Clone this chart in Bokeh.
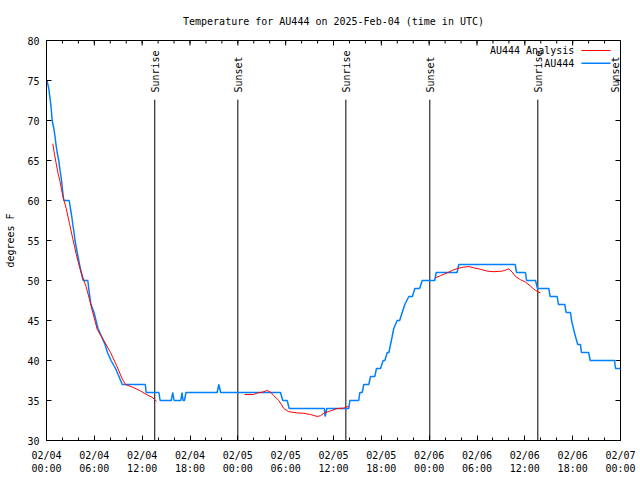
import numpy as np
from math import pi, nan
from bokeh.plotting import figure
from bokeh.models import Range1d, FixedTicker, Label
from bokeh.core.properties import value
from bokeh.embed import file_html
from bokeh.resources import INLINE

# ---- data (hours since 2025-02-04 00:00 UTC, degrees F) ----
obs_hours = [0.05, 0.29, 0.41, 0.54, 0.63, 0.71, 0.92, 1.07, 1.19, 1.34, 1.54, 1.66, 1.82, 1.94,
             2.04, 2.17, 2.85, 3.0, 3.17, 3.3, 3.45, 3.58, 3.76, 3.95, 4.14, 4.35, 4.6, 5.18,
             5.3, 5.43, 5.58, 5.96, 6.21, 6.46, 6.9, 7.34, 7.65, 8.09, 8.66, 9.09, 9.5, 12.4,
             12.5, 14.1, 14.25, 15.65, 15.84, 16.0, 16.85, 17.0, 17.12, 17.3, 17.5, 21.4,
             21.62, 21.85, 29.35, 29.64, 30.19, 30.44, 34.85, 34.95, 35.16, 37.92, 38.05,
             39.17, 39.3, 39.6, 39.8, 40.43, 40.64, 41.18, 41.39, 41.9, 42.23, 42.44, 42.74,
             42.95, 43.15, 43.36, 43.56, 43.99, 44.3, 44.62, 44.94, 45.45, 45.9, 46.2, 46.8,
             47.13, 48.7, 48.88, 51.5, 51.72, 58.79, 58.96, 60.08, 60.21, 61.34, 61.59, 63.0,
             63.18, 64.06, 64.22, 65.01, 65.19, 65.73, 65.86, 66.1, 66.35, 66.64, 66.98,
             67.1, 68.0, 68.2, 71.25, 71.38, 72.0]
obs_temp = [75, 74, 73, 72, 71, 70, 69, 68, 67, 66, 65, 64, 63, 62,
            61, 60, 60, 59, 58, 57, 56, 55, 54, 53, 52, 51, 50, 50,
            49, 48, 47, 46, 45, 44, 43, 42, 41, 40, 39, 38, 37, 37,
            36, 36, 35, 35, 36, 35, 35, 36, 35, 35, 36, 36,
            37, 36, 36, 35, 35, 34, 34, 33, 34, 34, 35,
            35, 36, 36, 37, 37, 38, 38, 39, 39, 40, 40, 41,
            41, 42, 43, 44, 45, 45, 46, 47, 48, 48, 49, 49,
            50, 50, 51, 51, 52, 52, 51, 51, 50, 50, 49, 49,
            48, 48, 47, 47, 46, 46, 45, 44, 43, 42, 42,
            41, 41, 40, 40, 39, 39]

ana_hours = [0.79, 1.0, 1.22, 1.42, 1.67, 2.04, 2.47, 2.89, 3.3, 3.73, 4.14, 4.56, 4.98, 5.4,
             5.75, 6.36, 7.19, 8.03, 8.87, 9.5, 9.91, 10.95, 11.79, 12.63, 13.26, 13.8, nan,
             24.84, 25.97, 26.47, 27.09, 27.68, 28.1, 28.51, 29.14, 29.77, 30.39, 31.45, 32.27,
             33.12, 33.96, 34.37, 34.78, 35.62, 36.47, 37.29, 37.92, nan,
             48.8, 49.42, 50.26, 50.89, 51.52, 52.35, 52.97, 53.6, 54.44, 55.28, 56.11, 57.16,
             57.58, 57.99, 58.42, 58.83, 59.46, 60.08, 60.71, 61.34, 61.96]
ana_temp = [67.1, 65.8, 64.6, 63.5, 62.5, 60.6, 59.0, 57.1, 55.2, 53.3, 51.7, 50.4, 49.2, 47.6,
            46.2, 43.9, 42.5, 41.0, 39.2, 37.7, 37.0, 36.6, 36.2, 35.7, 35.4, 34.9, nan,
            35.75, 35.75, 35.95, 36.05, 36.25, 36.05, 35.6, 35.0, 34.0, 33.6, 33.45, 33.4,
            33.25, 33.0, 33.1, 33.4, 33.7, 34.0, 34.05, 34.3, nan,
            50.34, 50.6, 50.96, 51.25, 51.5, 51.67, 51.75, 51.58, 51.4, 51.17, 51.1, 51.17,
            51.3, 51.45, 51.05, 50.5, 50.1, 49.8, 49.3, 48.75, 48.45]

sun_hours = [13.58, 24.0, 37.55, 48.08, 61.63, 72.0]
sun_labels = ["Sunrise", "Sunset", "Sunrise", "Sunset", "Sunrise", "Sunset"]

x_ticks = [0, 6, 12, 18, 24, 30, 36, 42, 48, 54, 60, 66, 72]
x_tick_labels = ["02/04\n00:00", "02/04\n06:00", "02/04\n12:00", "02/04\n18:00",
                 "02/05\n00:00", "02/05\n06:00", "02/05\n12:00", "02/05\n18:00",
                 "02/06\n00:00", "02/06\n06:00", "02/06\n12:00", "02/06\n18:00",
                 "02/07\n00:00"]
x_minor = [h for h in range(0, 73, 2)]
y_ticks = [30, 35, 40, 45, 50, 55, 60, 65, 70, 75, 80]

series_names = ["AU444 Analysis", "AU444"]
RED = "#ff0000"
BLUE = "#0080ff"
FONT = "DejaVu Sans Mono"
FS = "10px"

X0, X1, Y0, Y1 = 0, 72, 30, 80
FW, FH = 574, 400          # frame size in px
xpp = (X1 - X0) / FW       # hours per px
ypp = (Y1 - Y0) / FH       # degrees per px

p = figure(width=640, height=480, output_backend="svg", toolbar_location=None,
           x_range=Range1d(X0, X1), y_range=Range1d(Y0, Y1),
           min_border_left=46, min_border_right=20, min_border_top=40, min_border_bottom=40)
p.title.text = "Temperature for AU444 on 2025-Feb-04 (time in UTC)"
p.title.align = "center"
p.title.text_font = FONT
p.title.text_font_size = FS
p.title.text_font_style = "normal"
p.title.text_color = "black"
p.title.standoff = 27

p.xgrid.visible = False
p.ygrid.visible = False
p.outline_line_color = "black"
p.outline_line_width = 1
p.background_fill_color = "white"
p.border_fill_color = "white"

xt = FixedTicker(ticks=x_ticks, minor_ticks=x_minor)
yt = FixedTicker(ticks=y_ticks, minor_ticks=[])

def style(ax):
    ax.axis_line_color = "black"
    ax.major_tick_line_color = "black"
    ax.minor_tick_line_color = "black"
    ax.major_tick_in = 5
    ax.major_tick_out = 0
    ax.minor_tick_in = 3
    ax.minor_tick_out = 0
    ax.major_label_text_font = FONT
    ax.major_label_text_font_size = FS
    ax.major_label_text_color = "black"
    ax.major_label_standoff = 7

xa = p.xaxis[0]
xa.ticker = xt
xa.major_label_overrides = {t: l for t, l in zip(x_ticks, x_tick_labels)}
style(xa)
xa.major_label_standoff = 9
ya = p.yaxis[0]
ya.ticker = yt
style(ya)
ya.axis_label = "degrees F"
ya.axis_label_text_font = FONT
ya.axis_label_text_font_size = FS
ya.axis_label_text_font_style = "normal"
ya.axis_label_text_color = "black"
ya.axis_label_standoff = 8

# mirrored ticks on top and right edges (gnuplot style)
p.segment(x0=x_ticks, y0=Y1, x1=x_ticks, y1=Y1 - 5 * ypp, line_color="black", line_width=1)
p.segment(x0=x_minor, y0=Y1, x1=x_minor, y1=Y1 - 3 * ypp, line_color="black", line_width=1)
p.segment(x0=X1, y0=y_ticks, x1=X1 - 5 * xpp, y1=y_ticks, line_color="black", line_width=1)

# sunrise / sunset markers
p.segment(x0=sun_hours, y0=Y0, x1=sun_hours, y1=72.6, line_color="black", line_width=1)
for sx, st in zip(sun_hours, sun_labels):
    off = -5 if sx >= X1 - 0.5 else 1   # keep the edge label inside the frame
    p.add_layout(Label(x=sx, y=73.5, text=st, angle=pi / 2, text_align="left",
                       text_baseline="middle", text_font=FONT, text_font_size=FS,
                       text_color="black", x_offset=off))

# series
p.line(np.array(obs_hours), np.array(obs_temp), line_color=BLUE, line_width=1.5)
p.line(np.array(ana_hours), np.array(ana_temp), line_color=RED, line_width=1)

# legend (gnuplot style: label then sample)
p.text(x=66.2, y=[78.75, 77.15], text=series_names, text_align="right", text_baseline="middle",
       text_font=value(FONT), text_font_size=FS, text_color="black")
p.segment(x0=67.1, y0=[78.75, 77.15], x1=70.75, y1=[78.75, 77.15], line_color=[RED, BLUE],
          line_width=[1, 1.5])

open("out.html", "w").write(file_html(p, INLINE))
